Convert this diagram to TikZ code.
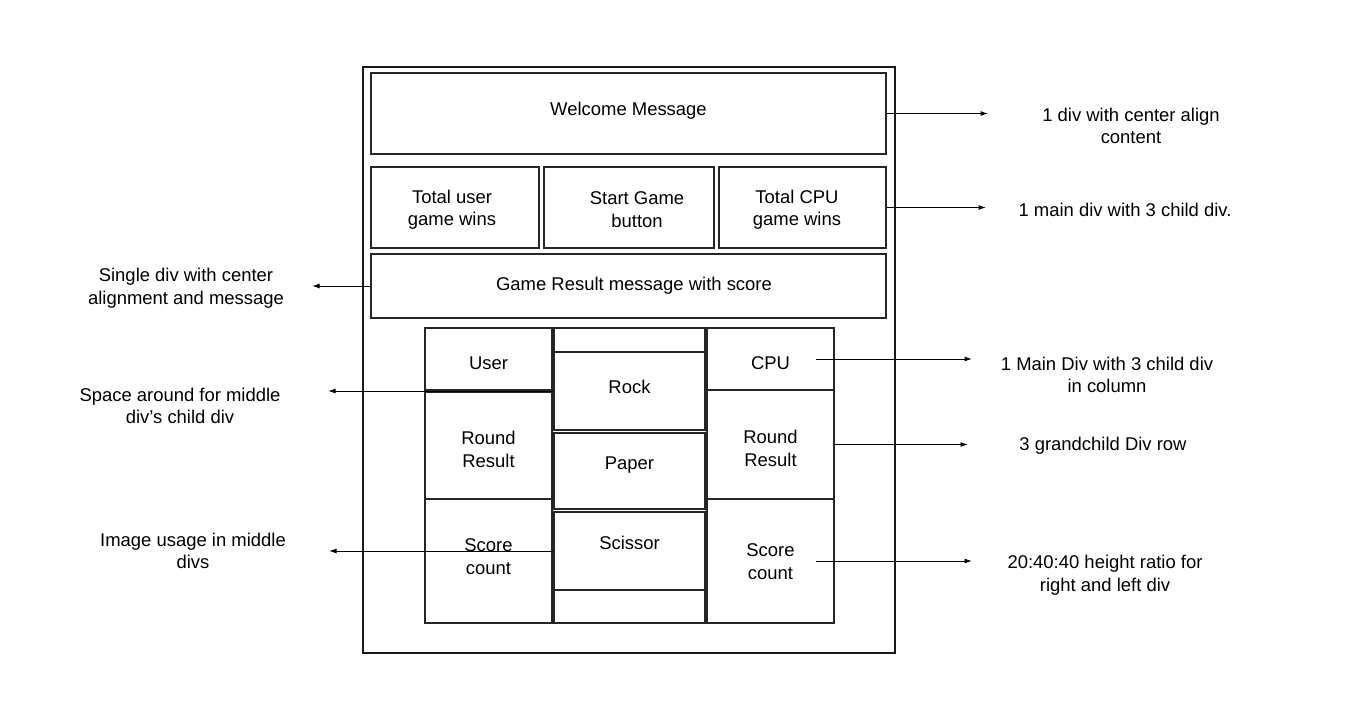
\documentclass[tikz,border=0pt]{standalone}
\usepackage{fontspec}
\setmainfont{Liberation Sans}
\usetikzlibrary{arrows.meta,fit}
\tikzstyle{divbox} = [draw=black!85, line width=0.035cm, inner sep=0pt]
\tikzstyle{frame} = [draw=black!90, line width=0.03cm, inner sep=0pt]
\tikzstyle{texto} = [font=\fontsize{10.5}{12.8}\selectfont, align=center,
  inner sep=0pt, yshift=-0.04cm]
\tikzstyle{line} = [draw, line width=0.02cm,
  -{Latex[length=0.15cm,width=0.1cm]}]
\newcommand{\divbox}[5]{node (#1) [divbox, fit={#2 #3},
  label={[texto,shift={#4}]center:{#5}}] {}}
\newcommand{\note}[3]{node (#1) [texto] at #2 {#3}}

\begin{document}
\begin{tikzpicture}[x=0.02cm, y=-0.02cm]
\useasboundingbox (0,0) rectangle (1354,721);
% Draw diagram elements
\path node (page) [frame, fit={(363,67) (895,653)}] {};

\path \divbox{welcome}{(371,73)}{(886,154)}{(0,-4.5)}{Welcome Message};

\path \divbox{userwins}{(371,167)}{(539,248)}{(-3,0)}{Total user\\game wins};
\path \divbox{start}{(544,167)}{(714,248)}{(8,0)}{Start Game\\button};
\path \divbox{cpuwins}{(719,167)}{(886,248)}{(-5.5,0)}{Total CPU\\game wins};

\path \divbox{result}{(371,254)}{(886,318)}{(5.5,-2)}{Game Result message with score};

% left column
\path \divbox{user}{(425,328)}{(552,390)}{(0,2)}{User};
\path \divbox{lround}{(425,392)}{(552,499)}{(0,2)}{Round\\Result};
\path \divbox{lscore}{(425,499)}{(552,623)}{(0,-6.5)}{Score\\count};

% middle column
\path \divbox{mtop}{(554,328)}{(705,352)}{(0,0)}{};
\path \divbox{rock}{(554,352)}{(705,430)}{(0,-6)}{Rock};
\path \divbox{paper}{(554,433)}{(705,509)}{(0,-8)}{Paper};
\path \divbox{scissor}{(554,512)}{(705,590)}{(0,-10)}{Scissor};
\path \divbox{mbottom}{(554,590)}{(705,623)}{(0,0)}{};

% right column
\path \divbox{cpu}{(707,328)}{(834,390)}{(0,2)}{CPU};
\path \divbox{rround}{(707,390)}{(834,499)}{(0,2)}{Round\\Result};
\path \divbox{rscore}{(707,499)}{(834,623)}{(0,-1.5)}{Score\\count};

% Notes
\path \note{n1}{(1131,124)}{1 div with center align\\content};
\path \note{n2}{(1125,208)}{1 main div with 3 child div.};
\path \note{n3}{(186,286)}{Single div with center\\alignment and message};
\path \note{n4}{(180,404)}{Space around for middle\\div’s child div};
\path \note{n5}{(193,549)}{Image usage in middle\\divs};
\path \note{n6}{(1107,373)}{1 Main Div with 3 child div\\in column};
\path \note{n7}{(1103,444)}{3 grandchild Div row};
\path \note{n8}{(1105,573)}{20:40:40 height ratio for\\right and left div};

% Free ends of the arrows
\coordinate (e1) at (988,0);
\coordinate (e2) at (986,0);
\coordinate (e3) at (312,0);
\coordinate (e4) at (328,0);
\coordinate (e5) at (329,0);
\coordinate (e6) at (972,0);
\coordinate (e7) at (968,0);
\coordinate (e8) at (972,0);

% Draw arrows between elements
\path [line] (welcome.east) -- (welcome.east -| e1);
\path [line] (cpuwins.east) -- (cpuwins.east -| e2);
\path [line] (result.west) -- (result.west -| e3);
\path [line] (rock.west) -- (rock.west -| e4);
\path [line] (scissor.west) -- (scissor.west -| e5);
\path [line] ([xshift=0.91cm]cpu.center) -- (cpu.center -| e6);
\path [line] (rround.east) -- (rround.east -| e7);
\path [line] ([xshift=0.91cm]rscore.center) -- (rscore.center -| e8);
\end{tikzpicture}
\end{document}
